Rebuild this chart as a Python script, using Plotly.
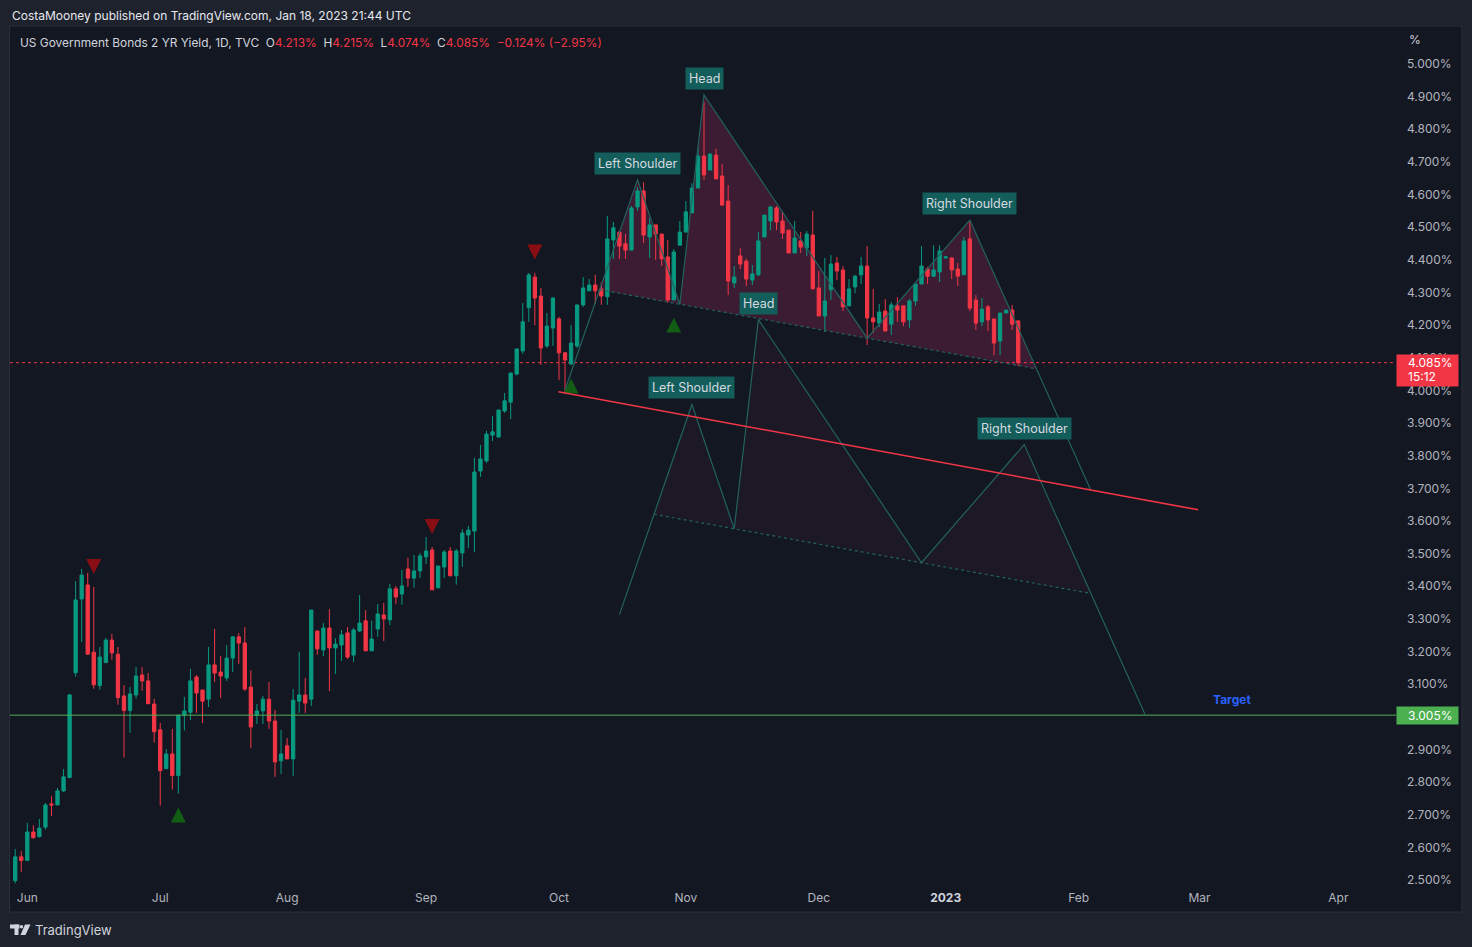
import numpy as np
import pandas as pd
import plotly.graph_objects as go

# ---------------- data ----------------
opens = [2.498, 2.571, 2.560, 2.647, 2.633, 2.662, 2.733, 2.730, 2.773, 2.814,
         3.135, 3.361, 3.404, 3.198, 3.096, 3.166, 3.235, 3.192, 3.064, 3.019,
         3.067, 3.128, 3.110, 3.039, 2.960, 2.841, 2.886, 2.820, 3.005, 3.014,
         3.122, 3.082, 3.054, 3.159, 3.137, 3.119, 3.180, 3.245, 3.226, 3.091,
         3.005, 3.018, 3.054, 2.987, 2.865, 2.911, 2.871, 3.048, 3.067, 3.054,
         3.263, 3.205, 3.272, 3.211, 3.220, 3.257, 3.189, 3.263, 3.294, 3.202,
         3.269, 3.312, 3.297, 3.392, 3.376, 3.453, 3.425, 3.447, 3.490, 3.511,
         3.395, 3.459, 3.508, 3.432, 3.502, 3.557, 3.569, 3.753, 3.784, 3.863,
         3.857, 3.937, 3.964, 4.050, 4.121, 4.253, 4.347, 4.289, 4.136, 4.191,
         4.219, 4.115, 4.081, 4.136, 4.262, 4.305, 4.323, 4.311, 4.287, 4.461,
         4.485, 4.449, 4.430, 4.562, 4.611, 4.470, 4.507, 4.479, 4.409, 4.277,
         4.445, 4.485, 4.544, 4.620, 4.718, 4.675, 4.721, 4.657, 4.580, 4.329,
         4.412, 4.396, 4.338, 4.354, 4.470, 4.519, 4.559, 4.519, 4.491, 4.421,
         4.458, 4.436, 4.476, 4.314, 4.228, 4.308, 4.390, 4.369, 4.259, 4.317,
         4.354, 4.381, 4.222, 4.206, 4.243, 4.203, 4.259, 4.259, 4.216, 4.274,
         4.326, 4.372, 4.350, 4.363, 4.406, 4.406, 4.372, 4.354, 4.464, 4.277,
         4.210, 4.256, 4.219, 4.151, 4.237, 4.246, 4.213]
highs = [2.595, 2.589, 2.675, 2.668, 2.687, 2.736, 2.757, 2.782, 2.840, 3.070,
         3.416, 3.453, 3.441, 3.398, 3.214, 3.241, 3.254, 3.214, 3.097, 3.091,
         3.153, 3.153, 3.134, 3.055, 2.981, 2.901, 2.963, 3.005, 3.061, 3.147,
         3.128, 3.082, 3.214, 3.269, 3.186, 3.220, 3.245, 3.257, 3.275, 3.143,
         3.039, 3.064, 3.107, 3.021, 2.960, 2.935, 3.085, 3.199, 3.119, 3.327,
         3.263, 3.287, 3.330, 3.241, 3.266, 3.275, 3.272, 3.373, 3.327, 3.294,
         3.346, 3.349, 3.407, 3.401, 3.450, 3.487, 3.496, 3.502, 3.551, 3.520,
         3.462, 3.511, 3.520, 3.514, 3.575, 3.585, 3.793, 3.833, 3.876, 3.922,
         3.940, 3.992, 4.053, 4.127, 4.268, 4.360, 4.360, 4.314, 4.237, 4.286,
         4.225, 4.118, 4.200, 4.262, 4.347, 4.341, 4.354, 4.332, 4.534, 4.516,
         4.488, 4.479, 4.565, 4.623, 4.638, 4.528, 4.507, 4.479, 4.461, 4.433,
         4.519, 4.580, 4.635, 4.743, 4.884, 4.727, 4.740, 4.694, 4.629, 4.381,
         4.436, 4.403, 4.384, 4.485, 4.537, 4.565, 4.565, 4.550, 4.491, 4.519,
         4.485, 4.488, 4.550, 4.366, 4.406, 4.415, 4.409, 4.381, 4.341, 4.354,
         4.409, 4.442, 4.311, 4.265, 4.280, 4.271, 4.286, 4.259, 4.280, 4.326,
         4.442, 4.378, 4.445, 4.445, 4.412, 4.406, 4.390, 4.470, 4.519, 4.292,
         4.283, 4.262, 4.219, 4.237, 4.246, 4.262, 4.215]
lows = [2.490, 2.525, 2.558, 2.626, 2.630, 2.654, 2.696, 2.730, 2.770, 2.812,
        3.123, 3.229, 3.190, 3.086, 3.083, 3.166, 3.175, 3.037, 2.875, 2.951,
        3.056, 3.080, 3.040, 2.921, 2.728, 2.841, 2.777, 2.765, 2.958, 2.990,
        3.012, 2.981, 3.030, 3.107, 3.058, 3.110, 3.137, 3.162, 3.079, 2.904,
        2.978, 2.978, 2.963, 2.816, 2.825, 2.871, 2.819, 3.012, 3.012, 3.033,
        3.190, 3.186, 3.079, 3.131, 3.171, 3.177, 3.168, 3.260, 3.202, 3.202,
        3.245, 3.232, 3.281, 3.346, 3.343, 3.398, 3.395, 3.425, 3.468, 3.389,
        3.395, 3.425, 3.432, 3.405, 3.459, 3.517, 3.505, 3.735, 3.778, 3.845,
        3.857, 3.931, 3.912, 4.046, 4.112, 4.210, 4.200, 4.078, 4.130, 4.136,
        4.032, 3.991, 4.078, 4.130, 4.256, 4.305, 4.265, 4.262, 4.262, 4.403,
        4.403, 4.403, 4.430, 4.550, 4.452, 4.406, 4.400, 4.381, 4.268, 4.277,
        4.445, 4.485, 4.544, 4.620, 4.645, 4.675, 4.648, 4.565, 4.292, 4.314,
        4.372, 4.320, 4.323, 4.350, 4.470, 4.491, 4.491, 4.464, 4.421, 4.421,
        4.421, 4.412, 4.311, 4.228, 4.179, 4.277, 4.338, 4.243, 4.259, 4.298,
        4.326, 4.139, 4.176, 4.194, 4.182, 4.170, 4.210, 4.197, 4.191, 4.259,
        4.326, 4.326, 4.347, 4.332, 4.403, 4.341, 4.320, 4.354, 4.243, 4.185,
        4.197, 4.182, 4.108, 4.108, 4.237, 4.185, 4.074]
closes = [2.571, 2.560, 2.647, 2.630, 2.659, 2.730, 2.730, 2.773, 2.816, 3.067,
          3.358, 3.434, 3.192, 3.098, 3.183, 3.235, 3.196, 3.059, 3.019, 3.070,
          3.125, 3.110, 3.040, 2.954, 2.835, 2.886, 2.820, 3.005, 3.018, 3.110,
          3.073, 3.048, 3.159, 3.134, 3.125, 3.180, 3.245, 3.226, 3.085, 2.969,
          3.018, 3.054, 2.987, 2.862, 2.886, 2.871, 3.051, 3.067, 3.042, 3.327,
          3.208, 3.272, 3.211, 3.223, 3.251, 3.183, 3.266, 3.287, 3.202, 3.238,
          3.315, 3.300, 3.392, 3.367, 3.401, 3.425, 3.447, 3.493, 3.508, 3.389,
          3.462, 3.505, 3.432, 3.508, 3.563, 3.572, 3.750, 3.790, 3.866, 3.873,
          3.940, 3.968, 4.053, 4.127, 4.210, 4.354, 4.283, 4.130, 4.197, 4.283,
          4.115, 4.093, 4.145, 4.262, 4.314, 4.323, 4.305, 4.289, 4.464, 4.498,
          4.442, 4.430, 4.559, 4.611, 4.476, 4.507, 4.479, 4.403, 4.277, 4.424,
          4.485, 4.547, 4.620, 4.718, 4.660, 4.724, 4.648, 4.568, 4.335, 4.347,
          4.387, 4.341, 4.357, 4.458, 4.537, 4.562, 4.516, 4.482, 4.421, 4.467,
          4.439, 4.479, 4.311, 4.228, 4.274, 4.387, 4.366, 4.256, 4.311, 4.350,
          4.381, 4.222, 4.210, 4.240, 4.182, 4.262, 4.246, 4.210, 4.274, 4.326,
          4.381, 4.350, 4.369, 4.427, 4.409, 4.369, 4.350, 4.458, 4.252, 4.206,
          4.249, 4.216, 4.145, 4.237, 4.246, 4.203, 4.085]

first_day = "2022-05-30"
last_axis_day = "2023-04-28"
missing_days = ["2022-12-26"]
month_labels = ["Jun", "Jul", "Aug", "Sep", "Oct", "Nov", "Dec", "2023", "Feb", "Mar", "Apr"]
label_months = ["2022-06", "2022-07", "2022-08", "2022-09", "2022-10", "2022-11",
                "2022-12", "2023-01", "2023-02", "2023-03", "2023-04"]
ytick_values = [round(2.5 + 0.1 * k, 1) for k in range(26) if abs(2.5 + 0.1 * k - 3.0) > 1e-6]

last_price = 4.085
last_price_text = "4.085%"
countdown_text = "15:12"
target_price = 3.005
target_text = "3.005%"

# Head & shoulders drawing anchors: (bar position, yield)
hs_points = [(91, 4.001), (103, 4.645), (110, 4.264), (114, 4.905),
             (141, 4.160), (158, 4.522), (178, 3.695)]
hs_shift = (9, -0.688)          # projected copy of the pattern
red_line = [(89.9, 3.996), (195.8, 3.634)]
pivot_high_x = [13, 69, 86]
pivot_high_y = [3.4605, 3.583, 4.424]
pivot_low_x = [27, 92, 109]
pivot_low_y = [2.699, 4.0135, 4.200]
target_x = 201.4

# ---------------- layout geometry ----------------
W, H = 1472, 947
PL, PR, PT, PB = 10, 1396, 27, 885
BAR_PX = 6.042
X0_PX = 27.3 - 2 * BAR_PX           # pixel of bar position 0
Y_PER_PCT = 326.4                    # px per 1.0 %
x_range = [(PL - X0_PX) / BAR_PX, (PR - X0_PX) / BAR_PX]
y_range = [5 - (PB - 64) / Y_PER_PCT, 5 - (PT - 64) / Y_PER_PCT]


def xp(px):
    return (px - PL) / (PR - PL)


def yp(py):
    return (PB - py) / (PB - PT)


BG = "#131722"
OUTER = "#1e222d"
UP = "#089981"
DOWN = "#f23645"
TXT = "#b2b5be"
FONT = "Inter"

days = pd.bdate_range(first_day, last_axis_day)
days = days[~days.isin(pd.to_datetime(missing_days))]
pos = np.arange(len(days))
xs = pos[:len(closes)]

month_keys = [d.strftime("%Y-%m") for d in days]
month_pos = [month_keys.index(m) for m in label_months]
tick_text = [("<b><span style='color:#d1d4dc'>%s</span></b>" % m) if m == "2023" else m
             for m in month_labels]

fig = go.Figure()

shapes = []
annotations = []

# frame of the chart pane
shapes.append(dict(type="rect", xref="paper", yref="paper", x0=xp(9.5), x1=xp(1462),
                   y0=yp(912), y1=yp(26), fillcolor=BG, line=dict(color="#2a2e39", width=1),
                   layer="below"))


def intersect(a, b, c, d):
    (x1, y1), (x2, y2), (x3, y3), (x4, y4) = a, b, c, d
    den = (x1 - x2) * (y3 - y4) - (y1 - y2) * (x3 - x4)
    t = ((x1 - x3) * (y3 - y4) - (y1 - y3) * (x3 - x4)) / den
    return (x1 + t * (x2 - x1), y1 + t * (y2 - y1))


def path_of(pts, close=True):
    s = "M " + " L ".join("%.4f,%.4f" % (x, y) for x, y in pts)
    return s + (" Z" if close else "")


LINE_C = "#22625f"
LABEL_BG = "#135e5a"


def add_pattern(pts, fill_alpha):
    P0, P1, P2, P3, P4, P5, P6 = pts
    L = intersect(P0, P1, P2, P4)
    R = intersect(P5, P6, P2, P4)
    fill = "rgba(220,50,115,%.3f)" % fill_alpha
    for tri in ([L, P1, P2], [P2, P3, P4], [P4, P5, R]):
        shapes.append(dict(type="path", xref="x", yref="y", path=path_of(tri),
                           fillcolor=fill, line=dict(width=0), layer="below"))
    shapes.append(dict(type="line", xref="x", yref="y", x0=L[0], y0=L[1], x1=R[0], y1=R[1],
                       line=dict(color=LINE_C, width=1.2, dash="dot"), layer="above"))
    shapes.append(dict(type="path", xref="x", yref="y", path=path_of(pts, close=False),
                       line=dict(color=LINE_C, width=1.2), layer="above"))
    for (px_, py_), txt in ((P1, "Left Shoulder"), (P3, "Head"), (P5, "Right Shoulder")):
        annotations.append(dict(x=px_, y=py_, xref="x", yref="y", text=txt, showarrow=False,
                                yanchor="bottom", yshift=5, bgcolor=LABEL_BG, borderpad=3,
                                font=dict(family=FONT, size=12.5, color="#d6d9e0")))


add_pattern(hs_points, 0.20)
add_pattern([(x + hs_shift[0], y + hs_shift[1]) for x, y in hs_points], 0.05)

# descending red trend line
shapes.append(dict(type="line", xref="x", yref="y", x0=red_line[0][0], y0=red_line[0][1],
                   x1=red_line[1][0], y1=red_line[1][1], line=dict(color=DOWN, width=1.5),
                   layer="above"))

# last price dotted line and target line
shapes.append(dict(type="line", xref="paper", yref="y", x0=0, x1=1, y0=last_price, y1=last_price,
                   line=dict(color=DOWN, width=1, dash="dot"), layer="below"))
shapes.append(dict(type="line", xref="paper", yref="y", x0=0, x1=1, y0=target_price, y1=target_price,
                   line=dict(color="#4caf50", width=1), layer="above"))

# candles
fig.add_trace(go.Candlestick(
    x=xs, open=opens, high=highs, low=lows, close=closes,
    increasing=dict(line=dict(color=UP, width=1), fillcolor=UP),
    decreasing=dict(line=dict(color=DOWN, width=1), fillcolor=DOWN),
    whiskerwidth=0, hoverinfo="skip", showlegend=False))

# pivot triangles
hw = 7.5 / BAR_PX
hh = 7.5 / Y_PER_PCT


def tri_poly(xl, yl, down):
    X, Y = [], []
    for x, y in zip(xl, yl):
        if down:
            X += [x - hw, x + hw, x, x - hw, None]
            Y += [y + hh, y + hh, y - hh, y + hh, None]
        else:
            X += [x - hw, x + hw, x, x - hw, None]
            Y += [y - hh, y - hh, y + hh, y - hh, None]
    return X, Y


tx, ty = tri_poly(pivot_high_x, pivot_high_y, True)
fig.add_trace(go.Scatter(x=tx, y=ty, mode="lines", fill="toself", fillcolor="#880e14",
                         line=dict(width=0, color="#880e14"), hoverinfo="skip", showlegend=False))
tx, ty = tri_poly(pivot_low_x, pivot_low_y, False)
fig.add_trace(go.Scatter(x=tx, y=ty, mode="lines", fill="toself", fillcolor="#125c14",
                         line=dict(width=0, color="#125c14"), hoverinfo="skip", showlegend=False))

# Target label
annotations.append(dict(x=target_x, y=target_price, xref="x", yref="y", text="<b>Target</b>",
                        showarrow=False, yanchor="bottom", yshift=6,
                        font=dict(family=FONT, size=12, color="#2962ff")))

# price axis labels: coloured boxes then their texts
annotations.append(dict(x=1, y=last_price, xref="paper", yref="y", xanchor="left", yanchor="top",
                        yshift=9, text="&nbsp;", showarrow=False, bgcolor=DOWN,
                        width=61, height=31, borderpad=0, font=dict(size=4)))
annotations.append(dict(x=xp(1406), y=last_price, xref="paper", yref="y", xanchor="left",
                        yanchor="middle", text=last_price_text, showarrow=False,
                        font=dict(family=FONT, size=12, color="#ffffff")))
annotations.append(dict(x=xp(1406), y=last_price, xref="paper", yref="y", xanchor="left",
                        yanchor="middle", yshift=-14, text=countdown_text, showarrow=False,
                        font=dict(family=FONT, size=12, color="#ffffff")))
annotations.append(dict(x=1, y=target_price, xref="paper", yref="y", xanchor="left", yanchor="middle",
                        text="&nbsp;", showarrow=False, bgcolor="#4caf50",
                        width=61, height=17, borderpad=0, font=dict(size=4)))
annotations.append(dict(x=xp(1406), y=target_price, xref="paper", yref="y", xanchor="left",
                        yanchor="middle", text=target_text, showarrow=False,
                        font=dict(family=FONT, size=12, color="#ffffff")))
annotations.append(dict(x=xp(1407), y=yp(40), xref="paper", yref="paper", xanchor="left",
                        yanchor="middle", text="%", showarrow=False,
                        font=dict(family=FONT, size=12, color="#d1d4dc")))

# header texts
annotations.append(dict(x=xp(10), y=yp(15), xref="paper", yref="paper", xanchor="left",
                        yanchor="middle", showarrow=False,
                        text="CostaMooney published on TradingView.com, Jan 18, 2023 21:44 UTC",
                        font=dict(family=FONT, size=12, color="#e6e8ee")))
red = "<span style='color:#f23645'>%s</span>"
legend = ("US Government Bonds 2 YR Yield, 1D, TVC&nbsp;&nbsp;"
          "O" + red % "4.213%" + "&nbsp;&nbsp;H" + red % "4.215%" +
          "&nbsp;&nbsp;L" + red % "4.074%" + "&nbsp;&nbsp;C" + red % "4.085%" +
          "&nbsp;&nbsp;" + red % "−0.124% (−2.95%)")
annotations.append(dict(x=xp(18), y=yp(42), xref="paper", yref="paper", xanchor="left",
                        yanchor="middle", showarrow=False, text=legend,
                        font=dict(family=FONT, size=11.9, color="#d1d4dc")))

# footer logo
shapes.append(dict(type="rect", xref="paper", yref="paper", x0=xp(10), x1=xp(19.5),
                   y0=yp(928.5), y1=yp(924.5), fillcolor="#d1d4dc", line=dict(width=0)))
shapes.append(dict(type="rect", xref="paper", yref="paper", x0=xp(14.5), x1=xp(18.5),
                   y0=yp(935), y1=yp(924.5), fillcolor="#d1d4dc", line=dict(width=0)))
shapes.append(dict(type="circle", xref="paper", yref="paper", x0=xp(19.8), x1=xp(23.2),
                   y0=yp(928.5), y1=yp(925), fillcolor="#d1d4dc", line=dict(width=0)))
shapes.append(dict(type="path", xref="paper", yref="paper",
                   path="M %f,%f L %f,%f L %f,%f L %f,%f Z" % (xp(25), yp(924.5), xp(30.5), yp(924.5),
                                                             xp(25.5), yp(935), xp(20.5), yp(935)),
                   fillcolor="#d1d4dc", line=dict(width=0)))
annotations.append(dict(x=xp(33), y=yp(930), xref="paper", yref="paper", xanchor="left",
                        yanchor="middle", showarrow=False, text="TradingView",
                        font=dict(family=FONT, size=13, color="#d1d4dc")))

fig.update_layout(
    width=W, height=H,
    margin=dict(l=PL, r=W - PR, t=PT, b=H - PB, pad=0),
    paper_bgcolor=OUTER, plot_bgcolor=BG,
    shapes=shapes, annotations=annotations,
    showlegend=False, boxgap=0.22, hovermode=False,
    font=dict(family=FONT, color=TXT),
    xaxis=dict(range=x_range, showgrid=False, zeroline=False, showline=False,
               tickmode="array", tickvals=month_pos, ticktext=tick_text, ticks="",
               tickangle=0, ticklabelstandoff=4,
               tickfont=dict(family=FONT, size=12, color=TXT),
               rangeslider=dict(visible=False), fixedrange=True),
    yaxis=dict(range=y_range, side="right", showgrid=False, zeroline=False, showline=False,
               tickmode="array", tickvals=ytick_values,
               ticktext=["%.3f%%" % v for v in ytick_values], ticks="",
               ticklabelstandoff=10,
               tickfont=dict(family=FONT, size=12, color=TXT), fixedrange=True),
)

fig.write_html("out.html", config={"displayModeBar": False},
               post_script="document.body.style.margin='0';document.body.style.background='#1e222d';")
